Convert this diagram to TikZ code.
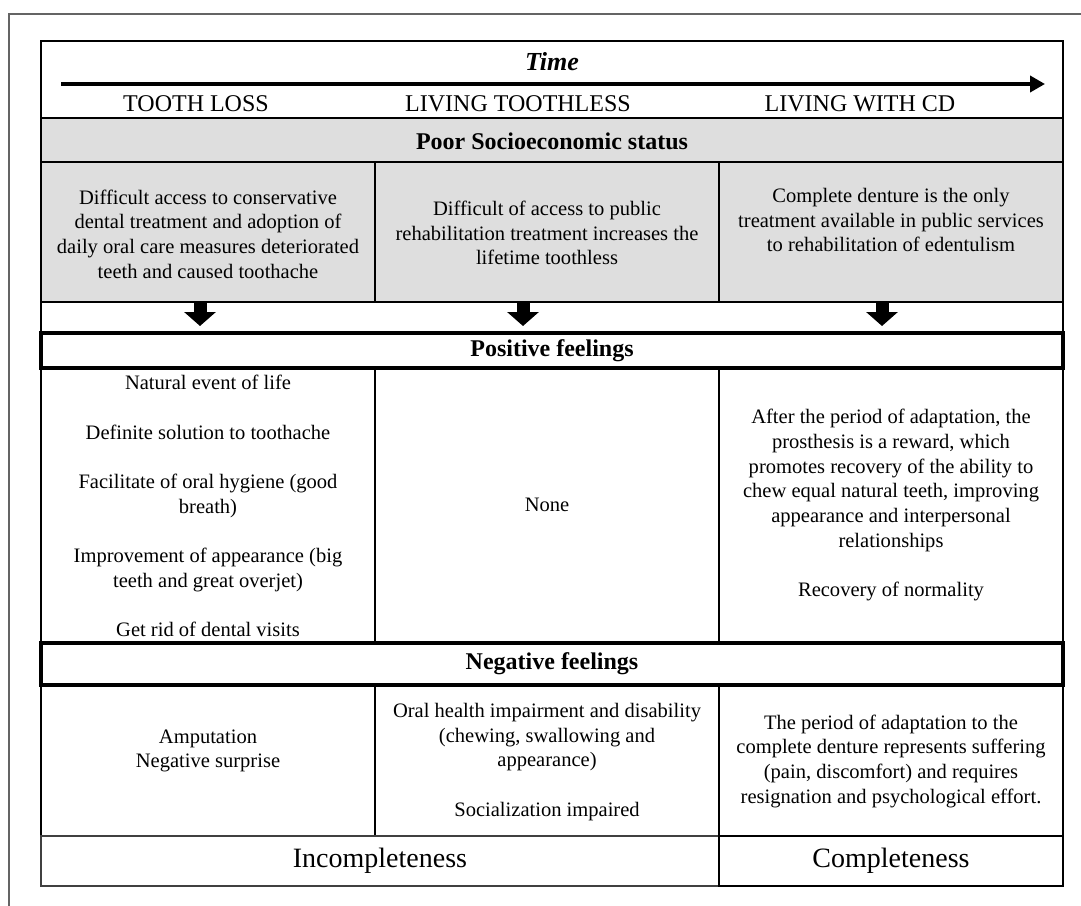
\documentclass[tikz,border=0pt]{standalone}
\usepackage{fontspec}
\setmainfont{Liberation Serif}
\usetikzlibrary{arrows.meta}
\definecolor{cellgrey}{RGB}{222,222,222}
\definecolor{framegrey}{RGB}{100,100,100}

\begin{document}
\begin{tikzpicture}[x=0.75pt,y=-0.75pt,>=latex,
  cell/.style={rectangle,draw,line width=1.2pt,inner sep=0pt},
  greycell/.style={cell,fill=cellgrey},
  feel/.style={rectangle,draw,line width=3.5pt,inner sep=0pt,minimum width=766.5pt},
  txt/.style={align=center,font=\fontsize{15.4}{18.5}\selectfont},
  lbl/.style={font=\fontsize{18}{21}\selectfont},
  boldlbl/.style={font=\bfseries\fontsize{18}{21}\selectfont},
  blockarrow/.style={line width=9.75pt,shorten >=3.5pt,-{Triangle[length=10.5pt,width=23.25pt]}}]
\begin{scope}

\useasboundingbox (0,0) rectangle (1081,906);
\draw[framegrey,line width=1.5pt] (9,906) -- (9,14) -- (1081,14);

% time row
 \node[cell,minimum width=766.5pt,minimum height=57.75pt] (timerow) at (552,79.5) {};
 \node[font=\bfseries\itshape\fontsize{19.5}{23}\selectfont] (time) at (552,62) {Time};
 \coordinate (t_start) at (61,84);
 \coordinate (t_end) at (1045,84);
 \draw[line width=3pt,-{Triangle[length=11.25pt,width=12pt]}] (t_start) -- (t_end);
 \node[lbl] (l1) at (196,104) {TOOTH LOSS};
 \node[lbl] (l2) at (518,104) {LIVING TOOTHLESS};
 \node[lbl] (l3) at (860,104) {LIVING WITH CD};

% socioeconomic status
 \node[greycell,minimum width=766.5pt,minimum height=33pt] (poor) at (552,140) {};
 \node[boldlbl] (poor_d) at (552,141) {Poor Socioeconomic status};

 \node[greycell,minimum width=250.5pt,minimum height=105pt] (g1) at (208,232) {};
 \node[greycell,minimum width=258pt,minimum height=105pt] (g2) at (547,232) {};
 \node[greycell,minimum width=258pt,minimum height=105pt] (g3) at (891,232) {};
 \node[txt] (g1_d) at (208,234) {Difficult access to conservative\\ dental treatment and adoption of\\ daily oral care measures deteriorated\\ teeth and caused toothache};
 \node[txt] (g2_d) at (547,233) {Difficult of access to public\\ rehabilitation treatment increases the\\ lifetime toothless};
 \node[txt] (g3_d) at (891,220) {Complete denture is the only\\ treatment available in public services\\ to rehabilitation of edentulism};

 \node[cell,minimum width=766.5pt,minimum height=23.25pt] (gap) at (552,317.5) {};

% positive feelings
 \node[cell,minimum width=250.5pt,minimum height=206.25pt] (p1) at (208,505.5) {};
 \node[cell,minimum width=258pt,minimum height=206.25pt] (p2) at (547,505.5) {};
 \node[cell,minimum width=258pt,minimum height=206.25pt] (p3) at (891,505.5) {};
 \node[txt] (p1_d) at (208,506) {Natural event of life\\[18.5pt] Definite solution to toothache\\[18.5pt] Facilitate of oral hygiene (good\\ breath)\\[18.5pt] Improvement of appearance (big\\ teeth and great overjet)\\[18.5pt] Get rid of dental visits};
 \node[txt] (p2_d) at (547,505) {None};
 \node[txt] (p3_d) at (891,505) {After the period of adaptation, the\\ prosthesis is a reward, which\\ promotes recovery of the ability to\\ chew equal natural teeth, improving\\ appearance and interpersonal\\ relationships\\[18.5pt] Recovery of normality};

% negative feelings
 \node[cell,minimum width=250.5pt,minimum height=113.25pt] (n1) at (208,760.5) {};
 \node[cell,minimum width=258pt,minimum height=113.25pt] (n2) at (547,760.5) {};
 \node[cell,minimum width=258pt,minimum height=113.25pt] (n3) at (891,760.5) {};
 \node[txt] (n1_d) at (208,751) {Amputation\\ Negative surprise};
 \node[txt] (n2_d) at (547,762) {Oral health impairment and disability\\ (chewing, swallowing and\\ appearance)\\[18.5pt] Socialization impaired};
 \node[txt] (n3_d) at (891,761) {The period of adaptation to the\\ complete denture represents suffering\\ (pain, discomfort) and requires\\ resignation and psychological effort.};

 \node[cell,draw=black!75,line width=0.9pt,minimum width=508.5pt,minimum height=37.5pt] (incomp) at (380,861) {};
 \node[cell,minimum width=258pt,minimum height=37.5pt] (comp) at (891,861) {};
 \node[font=\fontsize{21}{25}\selectfont] (incomp_d) at (380,861) {Incompleteness};
 \node[font=\fontsize{21}{25}\selectfont] (comp_d) at (891,861) {Completeness};

 \node[feel,minimum height=26.25pt] (pos) at (552,350.5) {};
 \node[boldlbl] (pos_d) at (552,351) {Positive feelings};
 \node[feel,minimum height=31.5pt] (neg) at (552,664) {};
 \node[boldlbl] (neg_d) at (552,664) {Negative feelings};

% block arrows
 \coordinate (a1) at (200,0);
 \coordinate (a2) at (523,0);
 \coordinate (a3) at (882,0);
 \draw[blockarrow] (g1.south -| a1) -- (pos.north -| a1);
 \draw[blockarrow] (g2.south -| a2) -- (pos.north -| a2);
 \draw[blockarrow] (g3.south -| a3) -- (pos.north -| a3);

\end{scope}
\end{tikzpicture}
\end{document}
